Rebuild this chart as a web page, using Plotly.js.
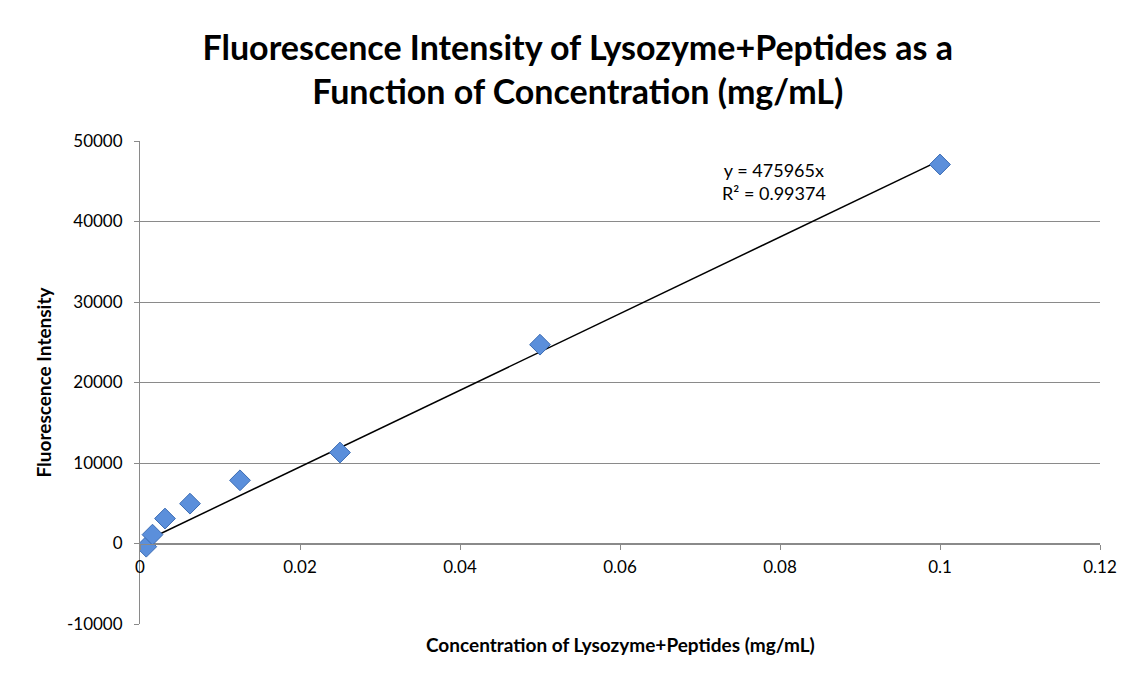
<!DOCTYPE html>
<html>
<head>
<meta charset="utf-8">
<script src="https://cdn.plot.ly/plotly-3.0.1.min.js"></script>
<style>html,body{margin:0;padding:0;background:#fff;}#chart{width:1144px;height:683px;}</style>
</head>
<body>
<div id="chart"></div>
<script>
const concentration = [0.00078125, 0.0015625, 0.003125, 0.00625, 0.0125, 0.025, 0.05, 0.1];
const intensity = [-400, 1100, 3100, 4950, 7850, 11300, 24700, 47080];
const trendSlope = 475965;
const rSquared = 0.99374;
const xTickVals = [0, 0.02, 0.04, 0.06, 0.08, 0.1, 0.12];
const xTickText = ["0", "0.02", "0.04", "0.06", "0.08", "0.1", "0.12"];
const yTickVals = [-10000, 0, 10000, 20000, 30000, 40000, 50000];
const yTickText = ["-10000", "0", "10000", "20000", "30000", "40000", "50000"];

const xMin = Math.min(...concentration), xMax = Math.max(...concentration);
const FONT = "Lato, 'Open Sans', sans-serif";
const grid = "#8a8a8a";

const traces = [
  {
    x: [xMin, xMax],
    y: [trendSlope * xMin, trendSlope * xMax],
    mode: "lines",
    line: {color: "#000", width: 1.5},
    hoverinfo: "skip",
    showlegend: false
  },
  {
    x: concentration,
    y: intensity,
    mode: "markers",
    marker: {symbol: "diamond", size: 16, color: "#5b8fdb", line: {color: "#3a6bb3", width: 1}},
    showlegend: false
  }
];

const layout = {
  width: 1144, height: 683,
  margin: {l: 140, r: 44, t: 141, b: 59},
  paper_bgcolor: "#fff", plot_bgcolor: "#fff",
  font: {family: FONT, size: 16, color: "#000"},
  title: {
    text: "<b>Fluorescence Intensity of Lysozyme+Peptides as a<br>Function of Concentration (mg/mL)</b>",
    xref: "container", x: 0.505, xanchor: "center",
    yref: "container", y: 1 - 60/683, yanchor: "middle",
    font: {family: FONT, size: 34, color: "#000"}
  },
  xaxis: {
    range: [0, 0.12],
    tickvals: xTickVals, ticktext: xTickText,
    anchor: "free", position: 1/6,
    showline: true, linecolor: grid, linewidth: 1,
    ticks: "outside", ticklen: 5, tickcolor: grid,
    ticklabelstandoff: 3,
    showgrid: false, zeroline: false,
    tickfont: {family: FONT, size: 17}
  },
  yaxis: {
    range: [-10000, 50000],
    tickvals: yTickVals, ticktext: yTickText,
    showline: true, linecolor: grid, linewidth: 1,
    ticks: "outside", ticklen: 5, tickcolor: grid,
    ticklabelstandoff: 8,
    showgrid: true, gridcolor: grid, gridwidth: 1,
    zeroline: false,
    tickfont: {family: FONT, size: 17},
    title: {text: "<b>Fluorescence Intensity</b>", font: {family: FONT, size: 19}, standoff: 10}
  },
  annotations: [
    {
      text: "<b>Concentration of Lysozyme+Peptides (mg/mL)</b>",
      xref: "paper", yref: "paper", x: 0.5, y: -0.015, xanchor: "center", yanchor: "top",
      showarrow: false, font: {family: FONT, size: 19}
    },
    {
      text: "y = " + trendSlope + "x<br>R² = " + rSquared,
      xref: "x", yref: "y", x: 0.0792, y: 45000, xanchor: "center", yanchor: "middle",
      showarrow: false, align: "center", font: {family: FONT, size: 18}
    }
  ]
};

Plotly.newPlot("chart", traces, layout, {displayModeBar: false, staticPlot: true});
</script>
</body>
</html>
